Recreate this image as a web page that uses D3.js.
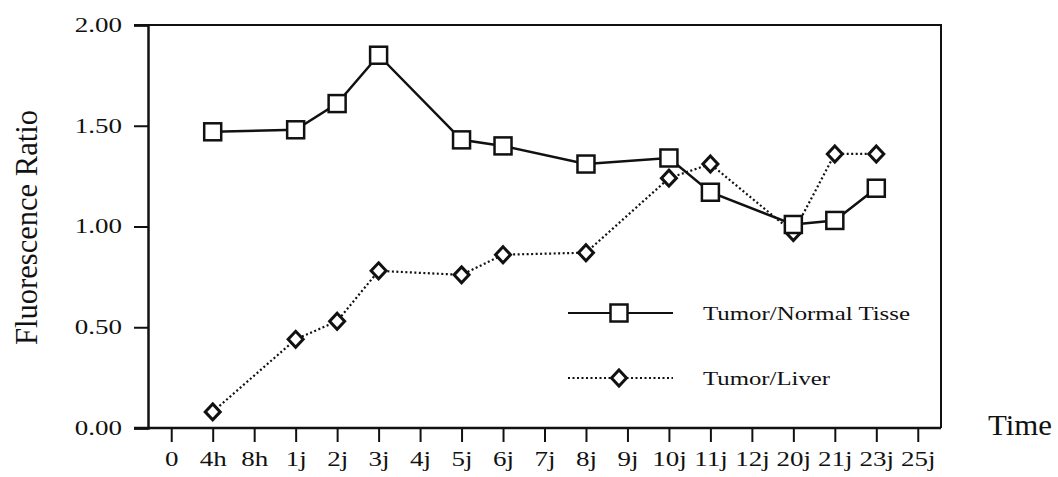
<!DOCTYPE html>
<html><head><meta charset="utf-8">
<script src="https://cdn.jsdelivr.net/npm/d3@7"></script>
<style>
body{margin:0;background:#fff;}
svg{display:block;}
text{font-family:"Liberation Serif","DejaVu Serif",serif;fill:#111;}
</style></head>
<body>
<svg id="c" width="1058" height="477"></svg>
<script>
const categories = ["0","4h","8h","1j","2j","3j","4j","5j","6j","7j","8j","9j","10j","11j","12j","20j","21j","23j","25j"];
const sampleTimes = ["4h","1j","2j","3j","5j","6j","8j","10j","11j","20j","21j","23j"];
const tumorNormal = [1.47,1.48,1.61,1.85,1.43,1.40,1.31,1.34,1.17,1.01,1.03,1.19];
const tumorLiver  = [0.08,0.44,0.53,0.78,0.76,0.86,0.87,1.24,1.31,0.97,1.36,1.36];
const yTicks = [0, 0.5, 1, 1.5, 2];
const seriesNames = ["Tumor/Normal Tisse","Tumor/Liver"];

const svg = d3.select("#c");
const L = 148, R = 941, T = 25, B = 428;
const SX = 1.35;
const x = d3.scalePoint().domain(categories).range([L, R]).padding(0.56);
const y = d3.scaleLinear().domain([0, 2]).range([B, T]);

function stretch(sel, k){
  sel.each(function(){
    const w = this.getComputedTextLength();
    d3.select(this).attr("textLength", w*k).attr("lengthAdjust","spacingAndGlyphs");
  });
}

// frame
svg.append("path").attr("d",`M${L-14},${T}H${R}V${B}`).attr("fill","none").attr("stroke","#111").attr("stroke-width",2);

// y axis
const ya = svg.append("g").attr("transform",`translate(${L},0)`)
  .call(d3.axisLeft(y).tickValues(yTicks).tickFormat(d3.format(".2f")).tickSize(14).tickPadding(12));
ya.select(".domain").attr("stroke","#111").attr("stroke-width",2.5);
ya.selectAll(".tick line").attr("stroke","#111").attr("stroke-width",2);
ya.selectAll("text").attr("font-size",20).attr("font-family","Liberation Serif").attr("fill","#111").call(stretch,SX);

// x axis
const xa = svg.append("g").attr("transform",`translate(0,${B})`)
  .call(d3.axisBottom(x).tickSize(14).tickPadding(10));
xa.select(".domain").attr("stroke","#111").attr("stroke-width",2.5).attr("d",`M${L-14},0H${R}`);
xa.selectAll(".tick line").attr("stroke","#111").attr("stroke-width",2);
xa.selectAll("text").attr("font-size",20).attr("font-family","Liberation Serif").attr("fill","#111").call(stretch,SX);

// axis titles
svg.append("text").attr("transform","translate(37,227.5) scale(1.05,1) rotate(-90)")
  .attr("text-anchor","middle").attr("font-size",31).attr("textLength",235).attr("lengthAdjust","spacingAndGlyphs")
  .text("Fluorescence Ratio");
svg.append("text").attr("x",988).attr("y",435).attr("font-size",30).attr("textLength",64).attr("lengthAdjust","spacingAndGlyphs").text("Time");

const tn = sampleTimes.map((t,i)=>({t, v: tumorNormal[i]}));
const tl = sampleTimes.map((t,i)=>({t, v: tumorLiver[i]}));
const line = d3.line().x(d=>x(d.t)).y(d=>y(d.v));

svg.append("path").datum(tn).attr("d",line).attr("fill","none").attr("stroke","#111").attr("stroke-width",2.5);
svg.append("path").datum(tl).attr("d",line).attr("fill","none").attr("stroke","#111").attr("stroke-width",2.2).attr("stroke-dasharray","2,2.5");

function square(g, cx, cy){
  g.append("rect").attr("x",cx-8.5).attr("y",cy-8.5).attr("width",17).attr("height",17)
    .attr("fill","#fff").attr("stroke","#111").attr("stroke-width",2.5);
}
function diamond(g, cx, cy){
  g.append("path").attr("d",`M${cx},${cy-8}L${cx+7.5},${cy}L${cx},${cy+8}L${cx-7.5},${cy}Z`)
    .attr("fill","#fff").attr("stroke","#111").attr("stroke-width",3);
}
const mk = svg.append("g");
tl.forEach(d=>diamond(mk, x(d.t), y(d.v)));
tn.forEach(d=>square(mk, x(d.t), y(d.v)));

// legend
const lg = svg.append("g");
lg.append("line").attr("x1",568).attr("x2",673).attr("y1",313).attr("y2",313).attr("stroke","#111").attr("stroke-width",2);
square(lg, 619, 313);
lg.append("text").attr("x",703).attr("y",320).attr("font-size",19).attr("textLength",207).attr("lengthAdjust","spacingAndGlyphs").text(seriesNames[0]);
lg.append("line").attr("x1",568).attr("x2",673).attr("y1",378).attr("y2",378).attr("stroke","#111").attr("stroke-width",2).attr("stroke-dasharray","2,2.5");
diamond(lg, 619, 378);
lg.append("text").attr("x",703).attr("y",385).attr("font-size",19).attr("textLength",127).attr("lengthAdjust","spacingAndGlyphs").text(seriesNames[1]);
</script>
</body></html>
